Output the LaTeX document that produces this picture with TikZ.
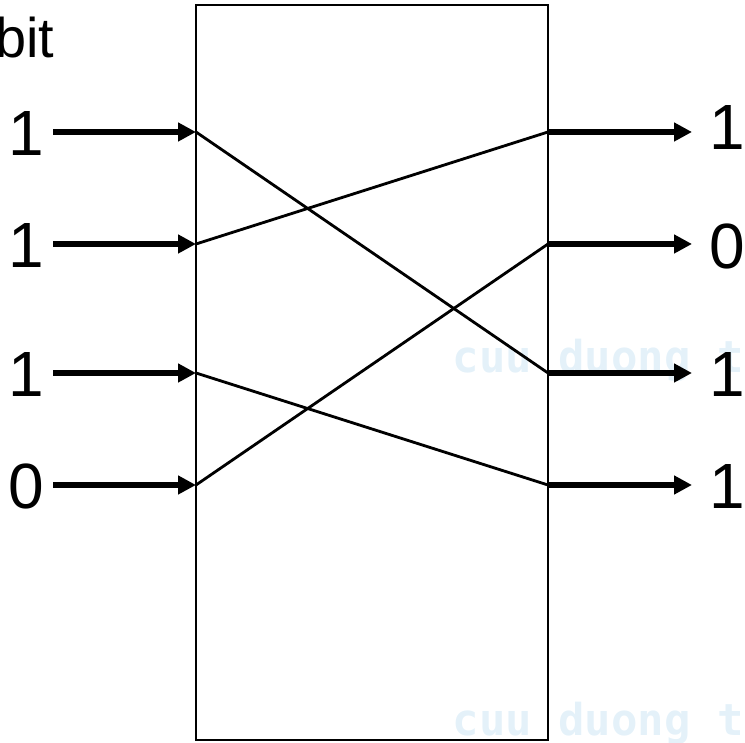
\documentclass[tikz,border=0pt]{standalone}
\usepackage{fontspec}
\setmainfont{Liberation Sans}
\newfontfamily\wmfont{DejaVu Sans Mono}
\usetikzlibrary{arrows.meta}
\definecolor{wmblue}{RGB}{228,241,249}

\tikzset{
  digit/.style={inner sep=0pt, font=\fontsize{18.2}{20}\selectfont},
  wmark/.style={inner sep=0pt, anchor=base west, text=wmblue,
    font=\wmfont\bfseries\fontsize{12.5}{14}\selectfont},
  bitarrow/.style={->, line width=1.7pt},
  wire/.style={line width=0.8pt}
}

\begin{document}
\begin{tikzpicture}[>={Triangle[length=5.1pt,width=5.1pt]}]
  \useasboundingbox (0,0) rectangle (7.45,7.42);
  \clip (0,0) rectangle (7.45,7.42);

  % watermark behind everything
  \node[wmark] (wm1) at (4.52,3.69) {cuu duong than cong};
  \node[wmark] (wm2) at (4.52,0.07) {cuu duong than cong};

  % box
  \coordinate (SW) at (1.96,0.02);
  \coordinate (NE) at (5.48,7.37);
  \draw[line width=0.6pt] (SW) rectangle (NE);

  % points on the box
  \coordinate (i1) at (1.96,6.10);
  \coordinate (i2) at (1.96,4.98);
  \coordinate (i3) at (1.96,3.69);
  \coordinate (i4) at (1.96,2.57);
  \coordinate (o1) at (5.48,6.10);
  \coordinate (o2) at (5.48,4.98);
  \coordinate (o3) at (5.48,3.69);
  \coordinate (o4) at (5.48,2.57);

  % arrow tails and heads
  \coordinate (a1) at (0.53,6.10);
  \coordinate (a2) at (0.53,4.98);
  \coordinate (a3) at (0.53,3.69);
  \coordinate (a4) at (0.53,2.57);
  \coordinate (h1) at (6.92,6.10);
  \coordinate (h2) at (6.92,4.98);
  \coordinate (h3) at (6.92,3.69);
  \coordinate (h4) at (6.92,2.57);

  \draw[bitarrow] (a1) -- (i1);
  \draw[bitarrow] (a2) -- (i2);
  \draw[bitarrow] (a3) -- (i3);
  \draw[bitarrow] (a4) -- (i4);
  \draw[bitarrow] (o1) -- (h1);
  \draw[bitarrow] (o2) -- (h2);
  \draw[bitarrow] (o3) -- (h3);
  \draw[bitarrow] (o4) -- (h4);

  % permutation
  \draw[wire] (i1) -- (o3);
  \draw[wire] (i2) -- (o1);
  \draw[wire] (i3) -- (o4);
  \draw[wire] (i4) -- (o2);

  % labels
  \node[inner sep=0pt, anchor=base east, font=\fontsize{15.9}{18}\selectfont]
    (bit) at (0.55,6.84) {bit};
  \node[digit] (l1) at (0.26,6.085) {1};
  \node[digit] (l2) at (0.26,4.965) {1};
  \node[digit] (l3) at (0.26,3.675) {1};
  \node[digit] (l4) at (0.26,2.56) {0};
  \node[digit] (r1) at (7.27,6.145) {1};
  \node[digit] (r2) at (7.27,4.96) {0};
  \node[digit] (r3) at (7.27,3.675) {1};
  \node[digit] (r4) at (7.27,2.555) {1};
\end{tikzpicture}
\end{document}
